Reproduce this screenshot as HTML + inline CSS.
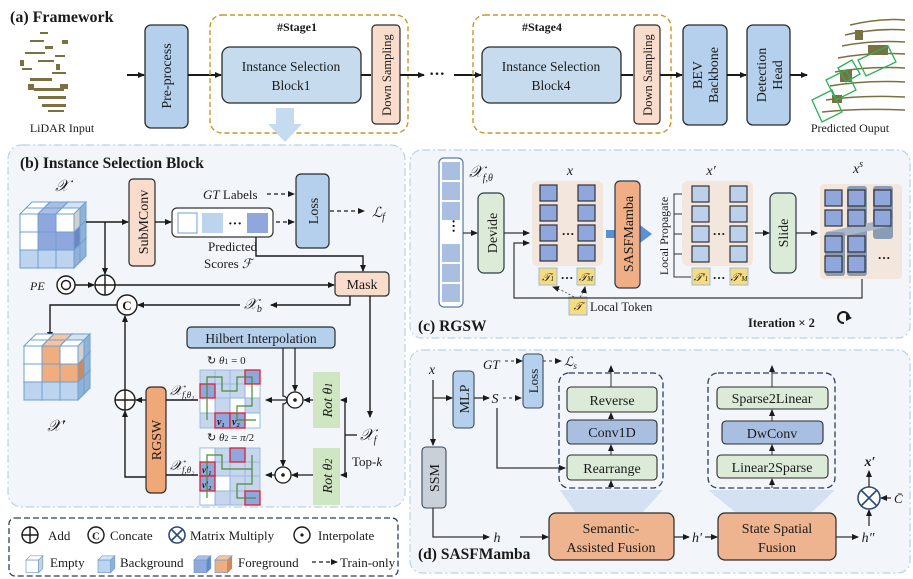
<!DOCTYPE html>
<html><head><meta charset="utf-8"><style>
html,body{margin:0;padding:0;background:#fff}
svg{display:block}
text{font-family:"Liberation Serif",serif;fill:#1a1a1a}
</style></head><body>
<svg width="913" height="579" viewBox="0 0 913 579" xmlns="http://www.w3.org/2000/svg">
<defs>
<marker id="a" markerWidth="7" markerHeight="7" refX="6" refY="3.5" orient="auto" markerUnits="userSpaceOnUse"><path d="M0,0.5 L7,3.5 L0,6.5 z" fill="#1a1a1a"/></marker>
<marker id="ab" markerWidth="9" markerHeight="9" refX="8" refY="4.5" orient="auto" markerUnits="userSpaceOnUse"><path d="M0,0 L9,4.5 L0,9 z" fill="#1a1a1a"/></marker>
<g id="cW"><rect x="0" y="0" width="18" height="18" fill="#fff" stroke="#6f9fd0" stroke-width="1"/><path d="M0,0 L6,-6 L24,-6 L18,0z" fill="#fff" stroke="#6f9fd0"/><path d="M18,0 L24,-6 L24,12 L18,18z" fill="#d0d0d0" stroke="#6f9fd0"/></g>
<g id="cB"><rect x="0" y="0" width="18" height="18" fill="#bcd4ee" stroke="#6f9fd0"/><path d="M0,0 L6,-6 L24,-6 L18,0z" fill="#d3e3f4" stroke="#6f9fd0"/><path d="M18,0 L24,-6 L24,12 L18,18z" fill="#8fb2da" stroke="#6f9fd0"/></g>
<g id="cD"><rect x="0" y="0" width="18" height="18" fill="#8fa7dc" stroke="#6f9fd0"/><path d="M0,0 L6,-6 L24,-6 L18,0z" fill="#a9bde6" stroke="#6f9fd0"/><path d="M18,0 L24,-6 L24,12 L18,18z" fill="#6b86c2" stroke="#6f9fd0"/></g>
<g id="cO"><rect x="0" y="0" width="18" height="18" fill="#f0ad80" stroke="#6f9fd0"/><path d="M0,0 L6,-6 L24,-6 L18,0z" fill="#f5c4a0" stroke="#6f9fd0"/><path d="M18,0 L24,-6 L24,12 L18,18z" fill="#cf8a5c" stroke="#6f9fd0"/></g>
<g id="sq"><rect x="0" y="0" width="17" height="16" fill="#8fa7dc" stroke="#333" stroke-width="1.2"/></g>
<g id="sqL"><rect x="0" y="0" width="17" height="16" fill="#bcd0ec" stroke="#333" stroke-width="1.2"/></g>
</defs>

<!-- ===== (a) Framework ===== -->
<text x="10" y="22" font-size="16" font-weight="bold">(a) Framework</text>
<!-- lidar cloud -->
<g fill="#7a7040">
<rect x="30" y="40" width="14" height="2"/><rect x="25" y="52" width="20" height="2"/><rect x="38" y="60" width="16" height="2"/><rect x="22" y="68" width="10" height="2"/><rect x="45" y="46" width="8" height="3"/><rect x="55" y="55" width="10" height="2"/><rect x="30" y="78" width="22" height="3"/><rect x="52" y="72" width="14" height="2"/><rect x="34" y="88" width="30" height="3"/><rect x="38" y="96" width="28" height="3"/><rect x="42" y="104" width="24" height="3"/><rect x="48" y="110" width="16" height="2"/><rect x="28" y="84" width="6" height="6"/><rect x="60" y="84" width="8" height="5"/><rect x="20" y="60" width="4" height="6"/><rect x="62" y="40" width="6" height="4"/><rect x="40" y="32" width="8" height="2"/><rect x="56" y="64" width="4" height="6"/>
</g>
<text x="62" y="132" font-size="12" text-anchor="middle">LiDAR Input</text>
<line x1="127" y1="75" x2="144" y2="75" stroke="#1a1a1a" stroke-width="2" marker-end="url(#a)"/>
<rect x="145" y="25" width="43" height="103" rx="6" fill="#b4d0ec" stroke="#2a2a2a" stroke-width="1.3"/>
<text transform="rotate(-90 171 76)" x="171" y="76" font-size="14" text-anchor="middle">Pre-process</text>
<line x1="188" y1="75" x2="221" y2="75" stroke="#1a1a1a" stroke-width="2" marker-end="url(#a)"/>
<rect x="210" y="15" width="198" height="118" rx="12" fill="none" stroke="#c8962a" stroke-width="1.4" stroke-dasharray="5,3"/>
<text x="297" y="31" font-size="12" font-weight="bold" text-anchor="middle">#Stage1</text>
<rect x="222" y="47" width="139" height="56" rx="8" fill="#c6dcee" stroke="#2a2a2a" stroke-width="1.3"/>
<text x="291" y="71" font-size="13.5" text-anchor="middle">Instance Selection</text>
<text x="291" y="90" font-size="13.5" text-anchor="middle">Block1</text>
<line x1="361" y1="75" x2="371" y2="75" stroke="#1a1a1a" stroke-width="2"/>
<rect x="372" y="25" width="28" height="99" rx="4" fill="#f9dccb" stroke="#2a2a2a" stroke-width="1.2"/>
<text transform="rotate(-90 391 75)" x="391" y="75" font-size="12.5" text-anchor="middle">Down Sampling</text>
<line x1="400" y1="75" x2="424" y2="75" stroke="#1a1a1a" stroke-width="2" marker-end="url(#a)"/>
<text x="437" y="79" font-size="16" font-weight="bold" text-anchor="middle">···</text>
<line x1="454" y1="75" x2="481" y2="75" stroke="#1a1a1a" stroke-width="2" marker-end="url(#a)"/>
<rect x="473" y="15" width="198" height="118" rx="12" fill="none" stroke="#c8962a" stroke-width="1.4" stroke-dasharray="5,3"/>
<text x="542" y="31" font-size="12" font-weight="bold" text-anchor="middle">#Stage4</text>
<rect x="482" y="47" width="139" height="56" rx="8" fill="#c6dcee" stroke="#2a2a2a" stroke-width="1.3"/>
<text x="551" y="71" font-size="13.5" text-anchor="middle">Instance Selection</text>
<text x="551" y="90" font-size="13.5" text-anchor="middle">Block4</text>
<line x1="621" y1="75" x2="633" y2="75" stroke="#1a1a1a" stroke-width="2"/>
<rect x="634" y="25" width="26" height="99" rx="4" fill="#f9dccb" stroke="#2a2a2a" stroke-width="1.2"/>
<text transform="rotate(-90 652 75)" x="652" y="75" font-size="12.5" text-anchor="middle">Down Sampling</text>
<line x1="660" y1="75" x2="682" y2="75" stroke="#1a1a1a" stroke-width="2" marker-end="url(#a)"/>
<rect x="683" y="25" width="44" height="100" rx="6" fill="#b4d0ec" stroke="#2a2a2a" stroke-width="1.3"/>
<text transform="rotate(-90 702 75)" x="702" y="75" font-size="14" text-anchor="middle">BEV</text>
<text transform="rotate(-90 718 75)" x="718" y="75" font-size="14" text-anchor="middle">Backbone</text>
<line x1="727" y1="75" x2="746" y2="75" stroke="#1a1a1a" stroke-width="2" marker-end="url(#a)"/>
<rect x="747" y="25" width="43" height="100" rx="6" fill="#b4d0ec" stroke="#2a2a2a" stroke-width="1.3"/>
<text transform="rotate(-90 766 75)" x="766" y="75" font-size="14" text-anchor="middle">Detection</text>
<text transform="rotate(-90 782 75)" x="782" y="75" font-size="14" text-anchor="middle">Head</text>
<line x1="790" y1="75" x2="807" y2="75" stroke="#1a1a1a" stroke-width="2" marker-end="url(#a)"/>
<!-- predicted cloud -->
<g fill="none" stroke="#7a7040" stroke-width="1.5">
<path d="M850,25 Q880,18 905,20"/><path d="M845,35 Q875,28 905,30"/><path d="M842,46 Q872,40 905,42"/><path d="M838,58 Q870,52 905,54"/><path d="M835,72 Q868,66 905,68"/><path d="M830,86 Q866,80 905,82"/><path d="M826,100 Q862,95 905,97"/><path d="M822,112 Q860,108 905,110"/>
</g>
<g fill="#7a7040"><rect x="840" y="70" width="12" height="12"/><rect x="868" y="45" width="20" height="10"/><rect x="832" y="95" width="10" height="8"/><rect x="855" y="30" width="8" height="10"/></g>
<g fill="none" stroke="#2bb05a" stroke-width="1.3">
<path d="M826,80 L846,70 L856,90 L836,100z"/><path d="M812,100 L832,90 L842,112 L822,122z"/><path d="M858,60 L888,46 L896,62 L866,76z"/><path d="M838,68 L852,60 L860,74 L846,82z"/>
</g>
<text x="850" y="132" font-size="12" text-anchor="middle">Predicted Ouput</text>

<!-- ===== (b) panel ===== -->
<rect x="8" y="145" width="397" height="362" rx="14" fill="#f2f6fa" stroke="#b8d2e8" stroke-width="1.2" stroke-dasharray="8,3,2,3"/>
<path d="M276,108 L294,108 L294,124 L302,124 L285,142 L268,124 L276,124z" fill="#c5dbef"/>
<text x="20" y="168" font-size="15.5" font-weight="bold">(b) Instance Selection Block</text>
<text x="62" y="191" font-size="16" font-style="italic" text-anchor="middle">𝒳</text>
<!-- cube X -->
<g>
<use href="#cB" x="26" y="244"/><use href="#cB" x="44" y="244"/><use href="#cB" x="62" y="244"/>
<use href="#cB" x="26" y="226"/><use href="#cD" x="44" y="226"/><use href="#cB" x="62" y="226"/>
<use href="#cW" x="26" y="208"/><use href="#cD" x="44" y="208"/><use href="#cB" x="62" y="208"/>
<use href="#cB" x="20" y="250"/><use href="#cB" x="38" y="250"/><use href="#cB" x="56" y="250"/>
<use href="#cW" x="20" y="232"/><use href="#cD" x="38" y="232"/><use href="#cD" x="56" y="232"/>
<use href="#cW" x="20" y="214"/><use href="#cD" x="38" y="214"/><use href="#cW" x="56" y="214"/>
</g>
<line x1="86" y1="222" x2="128" y2="222" stroke="#1a1a1a" stroke-width="1.4" marker-end="url(#a)"/>
<line x1="105" y1="222" x2="105" y2="274" stroke="#1a1a1a" stroke-width="1.4" marker-end="url(#a)"/>
<rect x="129" y="179" width="26" height="87" rx="4" fill="#f9dccb" stroke="#2a2a2a" stroke-width="1.2"/>
<text transform="rotate(-90 148 222)" x="148" y="222" font-size="14" text-anchor="middle">SubMConv</text>
<line x1="155" y1="222" x2="171" y2="222" stroke="#1a1a1a" stroke-width="1.4" marker-end="url(#a)"/>
<rect x="172" y="208" width="101" height="29" rx="5" fill="#fff" stroke="#333" stroke-width="1.2"/>
<rect x="178" y="213" width="19" height="20" fill="#fff" stroke="#6f9fd0"/>
<rect x="202" y="213" width="21" height="20" fill="#bcd4ee"/>
<text x="235" y="228" font-size="14" font-weight="bold" text-anchor="middle">···</text>
<rect x="247" y="213" width="21" height="20" fill="#8fa7dc"/>
<text x="203" y="199" font-size="13"><tspan font-style="italic">GT</tspan> Labels</text>
<line x1="267" y1="194" x2="294" y2="194" stroke="#1a1a1a" stroke-width="1.2" stroke-dasharray="4,3" marker-end="url(#a)"/>
<line x1="276" y1="222" x2="294" y2="222" stroke="#1a1a1a" stroke-width="1.2" stroke-dasharray="4,3" marker-end="url(#a)"/>
<rect x="296" y="174" width="33" height="74" rx="5" fill="#b4d0ec" stroke="#2a2a2a" stroke-width="1.2"/>
<text transform="rotate(-90 318 211)" x="318" y="211" font-size="14" text-anchor="middle">Loss</text>
<line x1="330" y1="211" x2="364" y2="211" stroke="#1a1a1a" stroke-width="1.2" stroke-dasharray="4,3" marker-end="url(#a)"/>
<text x="372" y="217" font-size="14" font-style="italic">ℒ<tspan font-size="10" dy="3">f</tspan></text>
<text x="208" y="251" font-size="13">Predicted</text>
<text x="204" y="268" font-size="13">Scores <tspan font-style="italic">ℱ</tspan></text>
<polyline points="256,237 256,256 363,256 363,271" fill="none" stroke="#1a1a1a" stroke-width="1.4" marker-end="url(#a)"/>
<rect x="335" y="272" width="54" height="24" rx="4" fill="#f9dccb" stroke="#2a2a2a" stroke-width="1.2"/>
<text x="362" y="289" font-size="14" text-anchor="middle">Mask</text>
<text x="30" y="290" font-size="12" font-style="italic">PE</text>
<circle cx="66" cy="285" r="9" fill="#fff" stroke="#1a1a1a" stroke-width="1.4"/><circle cx="66" cy="285" r="4.5" fill="none" stroke="#1a1a1a" stroke-width="1.4"/>
<line x1="75" y1="285" x2="94" y2="285" stroke="#1a1a1a" stroke-width="1.4" marker-end="url(#a)"/>
<circle cx="105" cy="285" r="10" fill="#fff" stroke="#1a1a1a" stroke-width="1.4"/><path d="M95,285 H115 M105,275 V295" stroke="#1a1a1a" stroke-width="1.4"/>
<line x1="115" y1="285" x2="334" y2="285" stroke="#1a1a1a" stroke-width="1.4" marker-end="url(#a)"/>
<polyline points="350,296 350,305 271,305" fill="none" stroke="#1a1a1a" stroke-width="1.4" marker-end="url(#a)"/>
<text x="244" y="309" font-size="15" font-style="italic">𝒳<tspan font-size="10" dy="3">b</tspan></text>
<line x1="240" y1="305" x2="138" y2="305" stroke="#1a1a1a" stroke-width="1.4" marker-end="url(#a)"/>
<circle cx="127" cy="305" r="10" fill="#fff" stroke="#1a1a1a" stroke-width="1.4"/>
<text x="127" y="310" font-size="13" font-weight="bold" text-anchor="middle">C</text>
<polyline points="117,305 50,305 50,338" fill="none" stroke="#1a1a1a" stroke-width="1.4" marker-end="url(#a)"/>
<!-- cube X' -->
<g>
<use href="#cB" x="30" y="376"/><use href="#cB" x="48" y="376"/><use href="#cB" x="66" y="376"/>
<use href="#cB" x="30" y="358"/><use href="#cO" x="48" y="358"/><use href="#cB" x="66" y="358"/>
<use href="#cW" x="30" y="340"/><use href="#cO" x="48" y="340"/><use href="#cB" x="66" y="340"/>
<use href="#cB" x="24" y="382"/><use href="#cB" x="42" y="382"/><use href="#cB" x="60" y="382"/>
<use href="#cW" x="24" y="364"/><use href="#cO" x="42" y="364"/><use href="#cO" x="60" y="364"/>
<use href="#cW" x="24" y="346"/><use href="#cO" x="42" y="346"/><use href="#cW" x="60" y="346"/>
</g>
<text x="56" y="431" font-size="16" font-style="italic" text-anchor="middle">𝒳′</text>
<line x1="370" y1="296" x2="370" y2="417" stroke="#1a1a1a" stroke-width="1.4" marker-end="url(#a)"/>
<circle cx="125" cy="400" r="10" fill="#fff" stroke="#1a1a1a" stroke-width="1.4"/><path d="M115,400 H135 M125,390 V410" stroke="#1a1a1a" stroke-width="1.4"/>
<line x1="125" y1="390" x2="125" y2="316" stroke="#1a1a1a" stroke-width="1.4" marker-end="url(#a)"/>
<line x1="146" y1="400" x2="136" y2="400" stroke="#1a1a1a" stroke-width="1.4" marker-end="url(#a)"/>
<polyline points="146,477 125,477 125,411" fill="none" stroke="#1a1a1a" stroke-width="1.4" marker-end="url(#a)"/>
<rect x="146" y="387" width="20" height="106" rx="5" fill="#f0a878" stroke="#2a2a2a" stroke-width="1.2"/>
<text transform="rotate(-90 161 440)" x="161" y="440" font-size="14" text-anchor="middle">RGSW</text>
<line x1="166" y1="400" x2="198" y2="400" stroke="#1a1a1a" stroke-width="1.4"/>
<line x1="166" y1="475" x2="198" y2="475" stroke="#1a1a1a" stroke-width="1.4"/>
<text x="170" y="395" font-size="14" font-style="italic">𝒳<tspan font-size="9" dy="3">f,θ₁</tspan></text>
<text x="170" y="470" font-size="14" font-style="italic">𝒳<tspan font-size="9" dy="3">f,θ₂</tspan></text>
<rect x="187" y="327" width="148" height="21" rx="4" fill="#b4d0ec" stroke="#2a2a2a" stroke-width="1.2"/>
<text x="261" y="343" font-size="13.5" text-anchor="middle">Hilbert Interpolation</text>
<text x="207" y="364" font-size="11">↻ <tspan font-style="italic">θ</tspan><tspan font-size="8">1</tspan> = 0</text>
<text x="207" y="441" font-size="11">↻ <tspan font-style="italic">θ</tspan><tspan font-size="8">2</tspan> = <tspan font-style="italic">π</tspan>/2</text>
<!-- grid 1 -->
<g stroke="#8fb2da" stroke-width="0.8">
<rect x="200" y="370" width="60" height="58" fill="#c5d6ee"/>
<rect x="245" y="384" width="15" height="14" fill="#fff"/><rect x="200" y="398" width="15" height="15" fill="#fff"/><rect x="230" y="398" width="15" height="15" fill="#fff"/><rect x="245" y="413" width="15" height="15" fill="#fff"/>
<path d="M215,370V428M230,370V428M245,370V428M200,384H260M200,398H260M200,413H260"/>
</g>
<g stroke="#e02030" stroke-width="1.3"><rect x="245" y="370" width="15" height="14" fill="#8fa7dc"/><rect x="200" y="384" width="15" height="14" fill="#8fa7dc"/><rect x="215" y="413" width="15" height="15" fill="#8fa7dc"/><rect x="230" y="413" width="15" height="15" fill="#8fa7dc"/></g>
<polyline points="207,420 207,377 222,377 222,391 237,391 237,377 252,377 252,406 237,406 237,420 256,420" fill="none" stroke="#4a8a3a" stroke-width="1.2"/>
<text x="217" y="425" font-size="10" font-weight="bold" font-style="italic">v₁</text><text x="232" y="425" font-size="10" font-weight="bold" font-style="italic">v₂</text>
<!-- grid 2 -->
<g stroke="#8fb2da" stroke-width="0.8">
<rect x="200" y="448" width="60" height="57" fill="#c5d6ee"/>
<rect x="200" y="448" width="15" height="14" fill="#fff"/><rect x="215" y="476" width="15" height="15" fill="#fff"/><rect x="200" y="491" width="15" height="14" fill="#fff"/>
<path d="M215,448V505M230,448V505M245,448V505M200,462H260M200,476H260M200,491H260"/>
</g>
<g stroke="#e02030" stroke-width="1.3"><rect x="230" y="448" width="15" height="14" fill="#8fa7dc"/><rect x="200" y="462" width="15" height="14" fill="#8fa7dc"/><rect x="200" y="476" width="15" height="15" fill="#8fa7dc"/><rect x="245" y="491" width="15" height="14" fill="#8fa7dc"/></g>
<polyline points="207,498 207,455 222,455 222,469 252,469 252,455 252,484 237,484 237,498 256,498" fill="none" stroke="#4a8a3a" stroke-width="1.2"/>
<text x="202" y="473" font-size="9" font-weight="bold" font-style="italic">v′₁</text><text x="202" y="488" font-size="9" font-weight="bold" font-style="italic">v′₂</text>
<!-- interpolate -->
<line x1="295" y1="348" x2="295" y2="391" stroke="#1a1a1a" stroke-width="1.2" marker-end="url(#a)"/>
<path d="M283,348 V396 A4,4 0 0 1 283,404 V466" fill="none" stroke="#1a1a1a" stroke-width="1.2" marker-end="url(#a)"/>
<circle cx="295" cy="400" r="8" fill="#fff" stroke="#1a1a1a" stroke-width="1.3"/><circle cx="295" cy="400" r="1.8" fill="#1a1a1a"/>
<circle cx="283" cy="475" r="8" fill="#fff" stroke="#1a1a1a" stroke-width="1.3"/><circle cx="283" cy="475" r="1.8" fill="#1a1a1a"/>
<line x1="287" y1="400" x2="266" y2="400" stroke="#1a1a1a" stroke-width="1.3" marker-end="url(#a)"/>
<line x1="275" y1="475" x2="266" y2="475" stroke="#1a1a1a" stroke-width="1.3" marker-end="url(#a)"/>
<line x1="313" y1="400" x2="304" y2="400" stroke="#1a1a1a" stroke-width="1.3" marker-end="url(#a)"/>
<line x1="313" y1="475" x2="292" y2="475" stroke="#1a1a1a" stroke-width="1.3" marker-end="url(#a)"/>
<rect x="313" y="372" width="27" height="56" fill="#cfe6c2"/>
<text transform="rotate(-90 332 400)" x="332" y="400" font-size="14" font-style="italic" text-anchor="middle">Rot θ<tspan font-size="10">1</tspan></text>
<rect x="313" y="448" width="27" height="57" fill="#cfe6c2"/>
<text transform="rotate(-90 332 476)" x="332" y="476" font-size="14" font-style="italic" text-anchor="middle">Rot θ<tspan font-size="10">2</tspan></text>
<polyline points="357,435 345,435" fill="none" stroke="#1a1a1a" stroke-width="1.3"/>
<line x1="345" y1="400" x2="345" y2="475" stroke="#1a1a1a" stroke-width="1.3"/>
<line x1="345" y1="400" x2="341" y2="400" stroke="#1a1a1a" stroke-width="1.3" marker-end="url(#a)"/>
<line x1="345" y1="475" x2="341" y2="475" stroke="#1a1a1a" stroke-width="1.3" marker-end="url(#a)"/>
<text x="360" y="440" font-size="16" font-style="italic">𝒳<tspan font-size="10" dy="3">f</tspan></text>
<text x="352" y="466" font-size="13">Top-<tspan font-style="italic">k</tspan></text>

<!-- legend -->
<rect x="9" y="518" width="389" height="58" rx="6" fill="#fff" stroke="#2c3e5c" stroke-width="1.3" stroke-dasharray="6,3"/>
<circle cx="30" cy="535" r="8" fill="none" stroke="#1a1a1a" stroke-width="1.4"/><path d="M22,535 H38 M30,527 V543" stroke="#1a1a1a" stroke-width="1.4"/>
<text x="48" y="540" font-size="13">Add</text>
<circle cx="96" cy="535" r="8" fill="none" stroke="#1a1a1a" stroke-width="1.4"/><text x="96" y="539.5" font-size="11" font-weight="bold" text-anchor="middle">C</text>
<text x="110" y="540" font-size="13">Concate</text>
<circle cx="177" cy="535" r="8" fill="none" stroke="#2c4a7a" stroke-width="1.6"/><path d="M171.5,529.5 L182.5,540.5 M182.5,529.5 L171.5,540.5" stroke="#2c4a7a" stroke-width="1.6"/>
<text x="190" y="540" font-size="13">Matrix Multiply</text>
<circle cx="302" cy="535" r="8" fill="none" stroke="#1a1a1a" stroke-width="1.4"/><circle cx="302" cy="535" r="1.6" fill="#1a1a1a"/>
<text x="318" y="540" font-size="13">Interpolate</text>
<g transform="translate(26,560) scale(0.7)"><use href="#cW" x="0" y="0"/></g>
<text x="50" y="567" font-size="13">Empty</text>
<g transform="translate(98,560) scale(0.7)"><use href="#cB" x="0" y="0"/></g>
<text x="120" y="567" font-size="13">Background</text>
<g transform="translate(194,560) scale(0.7)"><use href="#cD" x="0" y="0"/></g>
<g transform="translate(215,560) scale(0.7)"><use href="#cO" x="0" y="0"/></g>
<text x="238" y="567" font-size="13">Foreground</text>
<line x1="312" y1="562" x2="337" y2="562" stroke="#1a1a1a" stroke-width="1.2" stroke-dasharray="4,3" marker-end="url(#a)"/>
<text x="340" y="567" font-size="13">Train-only</text>

<!-- ===== (c) RGSW ===== -->
<rect x="410" y="150" width="500" height="188" rx="12" fill="#f2f6fa" stroke="#b8d2e8" stroke-width="1.2" stroke-dasharray="8,3,2,3"/>
<rect x="439" y="158" width="24" height="149" rx="5" fill="#fff" stroke="#5a7aa8" stroke-width="1.2"/>
<g fill="#a8bfe2"><rect x="442" y="162" width="18" height="18"/><rect x="442" y="182" width="18" height="18"/><rect x="442" y="202" width="18" height="18"/><rect x="442" y="244" width="18" height="18"/><rect x="442" y="264" width="18" height="18"/><rect x="442" y="284" width="18" height="18"/></g>
<text x="451" y="228" font-size="14" font-weight="bold" text-anchor="middle" transform="rotate(90 451 226)">···</text>
<text x="469" y="177" font-size="16" font-style="italic">𝒳<tspan font-size="10" dy="4">f,θ</tspan></text>
<line x1="463" y1="233" x2="477" y2="233" stroke="#333" stroke-width="1.2" marker-end="url(#a)"/>
<rect x="478" y="193" width="26" height="80" rx="6" fill="#dcebd8" stroke="#2a3a4a" stroke-width="1.2"/>
<text transform="rotate(-90 497 233)" x="497" y="233" font-size="14" text-anchor="middle">Devide</text>
<line x1="504" y1="233" x2="529" y2="233" stroke="#333" stroke-width="1.2" marker-end="url(#a)"/>
<rect x="532" y="181" width="71" height="85" rx="6" fill="#f3e6dc"/>
<use href="#sq" x="540" y="185"/><use href="#sq" x="540" y="205"/><use href="#sq" x="540" y="225"/><use href="#sq" x="540" y="245"/>
<use href="#sq" x="578" y="185"/><use href="#sq" x="578" y="205"/><use href="#sq" x="578" y="225"/><use href="#sq" x="578" y="245"/>
<text x="568" y="238" font-size="13" font-weight="bold" text-anchor="middle">···</text>
<text x="570" y="175" font-size="14" font-style="italic" text-anchor="middle">x</text>
<rect x="539" y="268" width="18" height="17" fill="#f5dc80" stroke="#9fb8d8"/><text x="548" y="281" font-size="11" font-style="italic" text-anchor="middle">𝒯<tspan font-size="7">1</tspan></text>
<rect x="577" y="268" width="18" height="17" fill="#f5dc80" stroke="#9fb8d8"/><text x="586" y="281" font-size="11" font-style="italic" text-anchor="middle">𝒯<tspan font-size="7">M</tspan></text>
<text x="567" y="282" font-size="13" font-weight="bold" text-anchor="middle">···</text>
<rect x="569" y="297" width="18" height="18" fill="#f5dc80" stroke="#9fb8d8"/><text x="578" y="310" font-size="11" font-style="italic" text-anchor="middle">𝒯</text>
<text x="590" y="311" font-size="12.5">Local Token</text>
<path d="M574,297 Q562,290 553,287" fill="none" stroke="#555" stroke-width="0.9" stroke-dasharray="2,2" marker-end="url(#a)"/>
<path d="M580,297 Q584,292 585,287" fill="none" stroke="#555" stroke-width="0.9" stroke-dasharray="2,2" marker-end="url(#a)"/>
<polyline points="862,278 862,298 514,298 514,243 529,243" fill="none" stroke="#333" stroke-width="1.2" marker-end="url(#a)"/>
<path d="M606,230 L640,230 L640,225 L652,234 L640,243 L640,238 L606,238z" fill="#5b8fd6"/>
<rect x="615" y="181" width="25" height="107" rx="5" fill="#efae86" stroke="#2a3a4a" stroke-width="1.2"/>
<text transform="rotate(-90 633 234)" x="633" y="234" font-size="14" text-anchor="middle">SASFMamba</text>
<text transform="rotate(-90 668 236)" x="668" y="236" font-size="12" text-anchor="middle">Local Propagate</text>
<polyline points="691,194 674,194 674,277 691,277" fill="none" stroke="#333" stroke-width="1"/>
<line x1="674" y1="194" x2="691" y2="194" stroke="#333" stroke-width="1" marker-end="url(#a)"/>
<line x1="674" y1="214" x2="691" y2="214" stroke="#333" stroke-width="1" marker-end="url(#a)"/>
<line x1="674" y1="234" x2="691" y2="234" stroke="#333" stroke-width="1" marker-end="url(#a)"/>
<line x1="674" y1="254" x2="691" y2="254" stroke="#333" stroke-width="1" marker-end="url(#a)"/>
<rect x="682" y="181" width="71" height="85" rx="6" fill="#f3e6dc"/>
<use href="#sqL" x="692" y="186"/><use href="#sqL" x="692" y="206"/><use href="#sqL" x="692" y="226"/><use href="#sqL" x="692" y="246"/>
<use href="#sqL" x="730" y="186"/><use href="#sqL" x="730" y="206"/><use href="#sqL" x="730" y="226"/><use href="#sqL" x="730" y="246"/>
<text x="719" y="238" font-size="13" font-weight="bold" text-anchor="middle">···</text>
<text x="711" y="175" font-size="14" font-style="italic" text-anchor="middle">x′</text>
<rect x="692" y="268" width="18" height="17" fill="#f5dc80" stroke="#9fb8d8"/><text x="701" y="281" font-size="11" font-style="italic" text-anchor="middle">𝒯′<tspan font-size="7">1</tspan></text>
<rect x="730" y="268" width="18" height="17" fill="#f5dc80" stroke="#9fb8d8"/><text x="739" y="281" font-size="11" font-style="italic" text-anchor="middle">𝒯′<tspan font-size="7">M</tspan></text>
<text x="719" y="282" font-size="13" font-weight="bold" text-anchor="middle">···</text>
<line x1="755" y1="233" x2="769" y2="233" stroke="#333" stroke-width="1.2" marker-end="url(#a)"/>
<rect x="770" y="193" width="26" height="80" rx="6" fill="#dcebd8" stroke="#2a3a4a" stroke-width="1.2"/>
<text transform="rotate(-90 788 233)" x="788" y="233" font-size="14" text-anchor="middle">Slide</text>
<line x1="796" y1="233" x2="817" y2="233" stroke="#333" stroke-width="1.2" marker-end="url(#a)"/>
<rect x="820" y="184" width="82" height="95" rx="4" fill="#f3e6dc"/>
<rect x="847" y="186" width="20" height="90" rx="3" fill="#8a9bb5"/><rect x="873" y="186" width="20" height="53" rx="3" fill="#8a9bb5"/>
<path d="M826,232 L892,218 L892,226 L826,240z" fill="#a9b6c9"/>
<rect x="825" y="232" width="20" height="44" rx="3" fill="#8a9bb5"/>
<use href="#sq" x="825" y="190"/><use href="#sq" x="825" y="210"/><use href="#sq" x="848" y="190"/><use href="#sq" x="848" y="210"/><use href="#sq" x="874" y="190"/><use href="#sq" x="874" y="210"/>
<use href="#sq" x="825" y="236"/><use href="#sq" x="825" y="256"/><use href="#sq" x="848" y="236"/><use href="#sq" x="848" y="256"/>
<text x="884" y="262" font-size="13" font-weight="bold" text-anchor="middle">···</text>
<text x="858" y="173" font-size="14" font-style="italic" text-anchor="middle">x<tspan font-size="10" dy="-6">s</tspan></text>
<text x="418" y="331" font-size="15.5" font-weight="bold">(c) RGSW</text>
<text x="748" y="327" font-size="12.5" font-weight="bold">Iteration × 2</text>
<path d="M849,318 A5.5,5.5 0 1 0 844,323" fill="none" stroke="#1a1a1a" stroke-width="2"/><path d="M846,314 L852,318 L846,321z" fill="#1a1a1a"/>

<!-- ===== (d) SASFMamba ===== -->
<rect x="410" y="350" width="500" height="223" rx="12" fill="#f2f6fa" stroke="#b8d2e8" stroke-width="1.2" stroke-dasharray="8,3,2,3"/>
<text x="432" y="374" font-size="14" font-style="italic" text-anchor="middle">x</text>
<line x1="433" y1="380" x2="433" y2="445" stroke="#333" stroke-width="1.3" marker-end="url(#a)"/>
<line x1="433" y1="398" x2="452" y2="398" stroke="#333" stroke-width="1.3" marker-end="url(#a)"/>
<rect x="453" y="371" width="21" height="57" rx="4" fill="#b4d0ec" stroke="#3a4a5a" stroke-width="1.1"/>
<text transform="rotate(-90 469 399)" x="469" y="399" font-size="14" text-anchor="middle">MLP</text>
<line x1="474" y1="398" x2="489" y2="398" stroke="#333" stroke-width="1.3" marker-end="url(#a)"/>
<text x="495" y="403" font-size="14" font-style="italic" text-anchor="middle">S</text>
<line x1="503" y1="398" x2="521" y2="398" stroke="#333" stroke-width="1.1" stroke-dasharray="3,3" marker-end="url(#a)"/>
<text x="483" y="369" font-size="13" font-style="italic">GT</text>
<line x1="505" y1="361" x2="522" y2="361" stroke="#333" stroke-width="1.1" stroke-dasharray="3,3" marker-end="url(#a)"/>
<rect x="523" y="354" width="20" height="54" rx="4" fill="#b4d0ec" stroke="#3a4a5a" stroke-width="1.1"/>
<text transform="rotate(-90 538 381)" x="538" y="381" font-size="13" text-anchor="middle">Loss</text>
<line x1="543" y1="361" x2="561" y2="361" stroke="#333" stroke-width="1.1" stroke-dasharray="3,3" marker-end="url(#a)"/>
<text x="564" y="366" font-size="13" font-style="italic">ℒ<tspan font-size="9" dy="3">s</tspan></text>
<polyline points="497,408 497,468 565,468" fill="none" stroke="#333" stroke-width="1.3" marker-end="url(#a)"/>
<!-- trapezoids -->
<path d="M560,490 L663,490 L643,512 L575,512z" fill="#d3e1f2"/>
<path d="M708,490 L835,490 L812,512 L735,512z" fill="#d3e1f2"/>
<rect x="559" y="373" width="104" height="115" rx="10" fill="none" stroke="#2c3e5c" stroke-width="1.3" stroke-dasharray="6,3"/>
<rect x="567" y="387" width="90" height="25" rx="4" fill="#dcebd8" stroke="#2a2a2a" stroke-width="1.1"/>
<text x="612" y="405" font-size="14" text-anchor="middle">Reverse</text>
<rect x="567" y="420" width="90" height="24" rx="4" fill="#a8bfe2" stroke="#2a2a2a" stroke-width="1.1"/>
<text x="612" y="437" font-size="14" text-anchor="middle">Conv1D</text>
<rect x="567" y="455" width="90" height="25" rx="4" fill="#dcebd8" stroke="#2a2a2a" stroke-width="1.1"/>
<text x="612" y="473" font-size="14" text-anchor="middle">Rearrange</text>
<line x1="611" y1="488" x2="611" y2="481" stroke="#333" stroke-width="1" marker-end="url(#a)"/>
<line x1="611" y1="455" x2="611" y2="445" stroke="#333" stroke-width="1" marker-end="url(#a)"/>
<line x1="611" y1="420" x2="611" y2="413" stroke="#333" stroke-width="1" marker-end="url(#a)"/>
<line x1="611" y1="387" x2="611" y2="366" stroke="#333" stroke-width="1" marker-end="url(#a)"/>
<rect x="708" y="373" width="127" height="115" rx="10" fill="none" stroke="#2c3e5c" stroke-width="1.3" stroke-dasharray="6,3"/>
<rect x="717" y="387" width="111" height="22" rx="4" fill="#dcebd8" stroke="#2a2a2a" stroke-width="1.1"/>
<text x="772" y="403" font-size="14" text-anchor="middle">Sparse2Linear</text>
<rect x="722" y="421" width="101" height="23" rx="4" fill="#a8bfe2" stroke="#2a2a2a" stroke-width="1.1"/>
<text x="772" y="438" font-size="14" text-anchor="middle">DwConv</text>
<rect x="717" y="455" width="111" height="23" rx="4" fill="#dcebd8" stroke="#2a2a2a" stroke-width="1.1"/>
<text x="772" y="472" font-size="14" text-anchor="middle">Linear2Sparse</text>
<line x1="772" y1="488" x2="772" y2="479" stroke="#333" stroke-width="1" marker-end="url(#a)"/>
<line x1="772" y1="455" x2="772" y2="445" stroke="#333" stroke-width="1" marker-end="url(#a)"/>
<line x1="772" y1="421" x2="772" y2="410" stroke="#333" stroke-width="1" marker-end="url(#a)"/>
<line x1="772" y1="387" x2="772" y2="366" stroke="#333" stroke-width="1" marker-end="url(#a)"/>
<rect x="422" y="447" width="24" height="61" rx="4" fill="#c9d0d8" stroke="#3a4a5a" stroke-width="1.1"/>
<text transform="rotate(-90 439 478)" x="439" y="478" font-size="14" text-anchor="middle">SSM</text>
<polyline points="433,508 433,537 489,537" fill="none" stroke="#333" stroke-width="1.3" marker-end="url(#a)"/>
<text x="497" y="542" font-size="14" font-style="italic" text-anchor="middle">h</text>
<line x1="520" y1="537" x2="548" y2="537" stroke="#333" stroke-width="1.3" marker-end="url(#a)"/>
<rect x="549" y="513" width="125" height="47" rx="7" fill="#eeb48f" stroke="#2a2a2a" stroke-width="1.2"/>
<text x="611" y="533" font-size="14" text-anchor="middle">Semantic-</text>
<text x="611" y="552" font-size="14" text-anchor="middle">Assisted Fusion</text>
<line x1="674" y1="537" x2="689" y2="537" stroke="#333" stroke-width="1.3" marker-end="url(#a)"/>
<text x="697" y="542" font-size="14" font-style="italic" text-anchor="middle">h′</text>
<line x1="705" y1="537" x2="717" y2="537" stroke="#333" stroke-width="1.3" marker-end="url(#a)"/>
<rect x="718" y="513" width="118" height="47" rx="7" fill="#eeb48f" stroke="#2a2a2a" stroke-width="1.2"/>
<text x="777" y="533" font-size="14" text-anchor="middle">State Spatial</text>
<text x="777" y="552" font-size="14" text-anchor="middle">Fusion</text>
<line x1="836" y1="537" x2="858" y2="537" stroke="#333" stroke-width="1.3" marker-end="url(#a)"/>
<text x="868" y="542" font-size="14" font-style="italic" text-anchor="middle">h″</text>
<line x1="869" y1="526" x2="869" y2="510" stroke="#333" stroke-width="1.3" marker-end="url(#a)"/>
<circle cx="869" cy="498" r="11" fill="#fff" stroke="#2c4a7a" stroke-width="1.6"/><path d="M861.5,490.5 L876.5,505.5 M876.5,490.5 L861.5,505.5" stroke="#2c4a7a" stroke-width="1.6"/>
<line x1="891" y1="498" x2="881" y2="498" stroke="#333" stroke-width="1.3" marker-end="url(#a)"/>
<text x="894" y="503" font-size="13" font-style="italic">C̄</text>
<line x1="869" y1="487" x2="869" y2="471" stroke="#333" stroke-width="1.3" marker-end="url(#a)"/>
<text x="870" y="466" font-size="14" font-style="italic" font-weight="bold" text-anchor="middle">x′</text>
<text x="418" y="559" font-size="15.5" font-weight="bold">(d) SASFMamba</text>
</svg>
</body></html>
